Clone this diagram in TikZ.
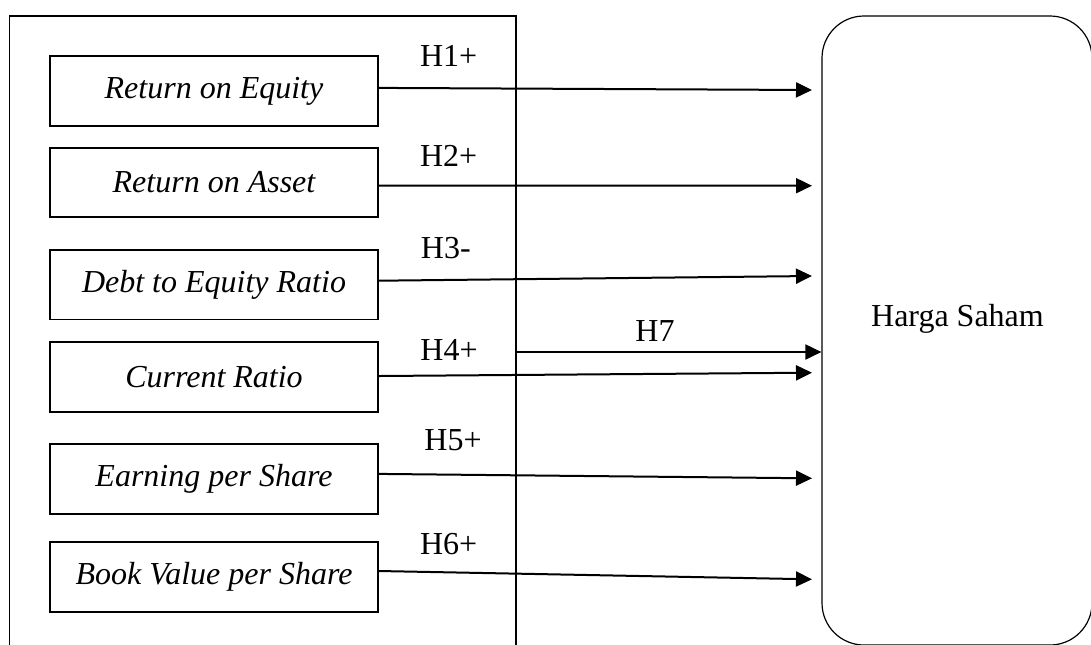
\documentclass[tikz,border=0pt]{standalone}
\usepackage{fontspec}
\setmainfont{Liberation Serif}
\usetikzlibrary{arrows.meta}

\begin{document}
\begin{tikzpicture}[x=0.5pt,y=-0.5pt,
	every node/.style={font=\fontsize{16}{19}\selectfont},
	var/.style={draw,line width=0.9pt,minimum width=164pt,minimum height=34.75pt,
	inner sep=0,font=\fontsize{16}{19}\selectfont\itshape},
	hyp/.style={anchor=base},
	arr/.style={line width=1pt,-{Triangle[length=8pt,width=7.5pt]}}]
\useasboundingbox (0,0) rectangle (1091,644);
\node[draw,line width=0.9pt,minimum width=253.25pt,minimum height=322pt,inner sep=0] (grp) at (262.75,338) {};
\node[draw,line width=0.6pt,rounded corners=21pt,minimum width=135pt,minimum height=314.5pt,inner sep=0] (saham) at (957,330.5) {};
\node[anchor=base] (harga) at (957.5,326) {Harga Saham};
% variabel independen
\node[var] (b1) at (214,90.9) {Return on Equity};
\node[var] (b2) at (214,182.5) {Return on Asset};
\node[var] (b3) at (214,284.7) {Debt to Equity Ratio};
\node[var] (b4) at (214,377) {Current Ratio};
\node[var] (b5) at (214,478.9) {Earning per Share};
\node[var] (b6) at (214,577) {Book Value per Share};
% hipotesis
\node[hyp] (h1) at (448.7,66.7) {H1+};
\node[hyp] (h2) at (448.7,166.7) {H2+};
\node[hyp] (h3) at (445.8,258.3) {H3-};
\node[hyp] (h4) at (449,360.7) {H4+};
\node[hyp] (h5) at (453,450.7) {H5+};
\node[hyp] (h6) at (448.7,554) {H6+};
\node[hyp] (h7) at (655,341.7) {H7};
\foreach \i/\y in {1/90,2/185.7,3/276,4/372.7,5/478.3,6/579.3}
	\coordinate (e\i) at (812,\y);
\foreach \i/\s in {1/1.5,2/-1.5,3/2,4/0.5,5/2.5,6/3}
	\draw[arr] ([yshift=\s pt]b\i.east) -- (e\i);
\draw[arr] (grp.east |- 0,352) -- (saham.west |- 0,352);
\end{tikzpicture}
\end{document}
